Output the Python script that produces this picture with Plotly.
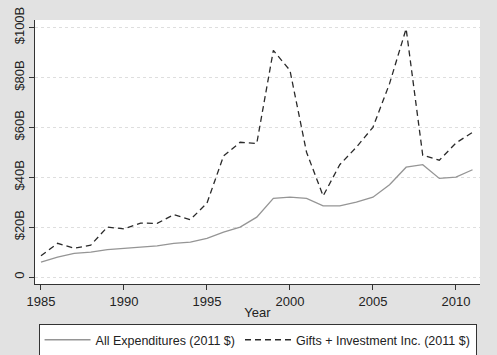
import plotly.graph_objects as go

years = list(range(1985, 2012))
all_exp = [6, 8, 9.5, 10, 11, 11.5, 12, 12.5, 13.5, 14, 15.5, 18, 20, 24, 31.5,
           32, 31.5, 28.5, 28.5, 30, 32, 37, 44, 45, 39.5, 40, 43]
gifts_inv = [8.5, 13.5, 11.5, 12.8, 20, 19.3, 21.6, 21.5, 25, 23, 29.6, 48.5, 54, 53.5, 90.8,
             82.8, 50, 32.5, 45, 52, 60, 77.5, 99.5, 48.8, 46.8, 53.7, 58]
y_ticks = [0, 20, 40, 60, 80, 100]
y_labels = ["0", "$20B", "$40B", "$60B", "$80B", "$100B"]
x_ticks = [1985, 1990, 1995, 2000, 2005, 2010]

font = "Liberation Sans, Arial, sans-serif"

fig = go.Figure()
fig.add_trace(go.Scatter(x=years, y=all_exp, mode="lines",
                         name="All Expenditures (2011 $)",
                         line=dict(color="#959595", width=1.3)))
fig.add_trace(go.Scatter(x=years, y=gifts_inv, mode="lines",
                         name="Gifts + Investment Inc. (2011 $)",
                         line=dict(color="#2a2a2a", width=1.3, dash="6px,4px")))

fig.update_layout(
    width=497, height=355,
    margin=dict(l=35, r=17, t=20, b=71, autoexpand=False),
    paper_bgcolor="#e2e2e2",
    plot_bgcolor="white",
    font=dict(family=font, size=13, color="#222"),
    showlegend=True,
    legend=dict(orientation="h", x=0.008, xanchor="left", y=-0.152, yanchor="top",
                bgcolor="white", bordercolor="#333", borderwidth=1,
                font=dict(size=12.5, color="#222"),
                tracegroupgap=0, itemwidth=46),
)
fig.update_xaxes(range=[1984.64, 2011.45], tickvals=x_ticks, ticks="outside",
                 ticklen=5, tickcolor="#333", showline=True, linecolor="#333",
                 linewidth=1, showgrid=False, zeroline=False, automargin=False,
                 title=dict(text="Year", standoff=0, font=dict(size=13)),
                 tickfont=dict(size=13))
fig.update_yaxes(range=[-2.8, 103], tickvals=y_ticks, ticktext=y_labels,
                 tickangle=-90, ticks="outside", ticklen=5, tickcolor="#333",
                 showline=True, linecolor="#333", linewidth=1, automargin=False,
                 showgrid=True, gridcolor="#dedede", griddash="dot", gridwidth=1,
                 zeroline=False, tickfont=dict(size=13))

fig.write_html("out.html")
